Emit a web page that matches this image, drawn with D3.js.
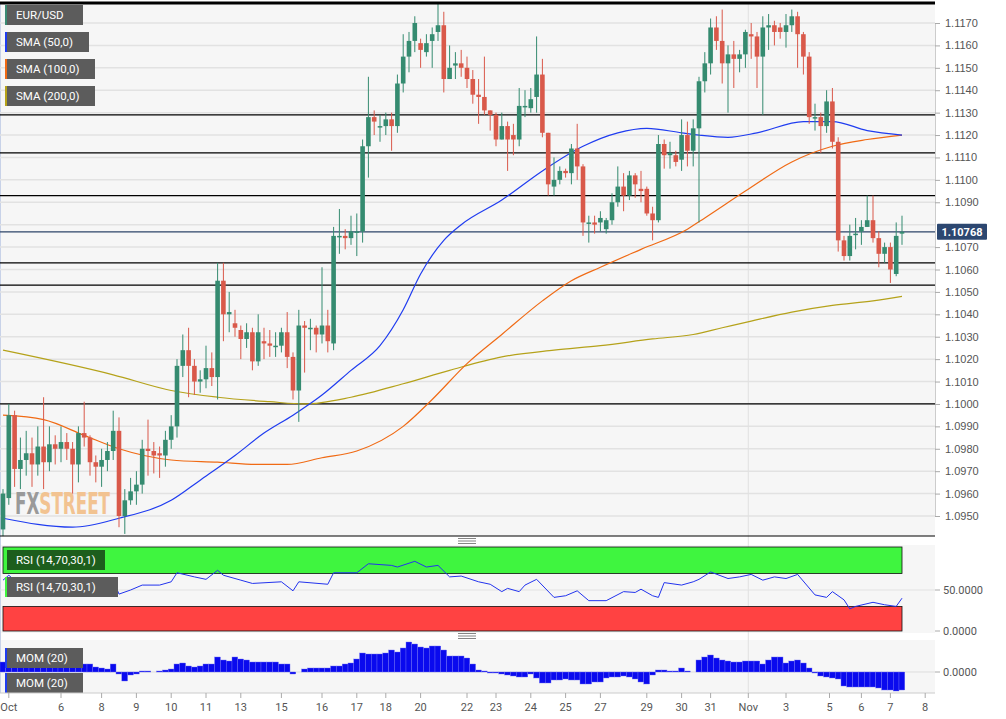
<!DOCTYPE html>
<html><head><meta charset="utf-8">
<script src="https://cdn.jsdelivr.net/npm/d3@7"></script>
<style>body{margin:0;background:#fff;font-family:Roboto,"Open Sans",sans-serif}</style>
</head><body><svg id="c" width="1006" height="719"></svg>
<script>
// candles: [open, high, low, close]
const candles = [
[1.0944,1.0962,1.0941,1.0960],[1.0958,1.1000,1.0955,1.0995],[1.0995,1.0997,1.0963,1.0971],[1.0971,1.0985,1.0962,1.0975],
[1.0975,1.0988,1.0968,1.0978],[1.0978,1.0985,1.0963,1.0973],[1.0973,1.0990,1.0968,1.0981],[1.0981,1.1003,1.0962,1.0974],
[1.0974,1.0990,1.0970,1.0982],[1.0982,1.0986,1.0973,1.0980],[1.0980,1.0990,1.0974,1.0983],[1.0983,1.0987,1.0975,1.0980],
[1.0980,1.0983,1.0960,1.0973],[1.0973,1.0990,1.0965,1.0987],[1.0987,1.1001,1.0981,1.0985],[1.0985,1.0986,1.0968,1.0974],
[1.0974,1.0977,1.0965,1.0972],[1.0972,1.0980,1.0963,1.0975],[1.0975,1.0983,1.0970,1.0979],[1.0979,1.0997,1.0975,1.0988],
[1.0988,1.0994,1.0945,1.0950],[1.0950,1.0962,1.0942,1.0957],[1.0957,1.0967,1.0955,1.0961],[1.0961,1.0970,1.0955,1.0964],
[1.0964,1.0984,1.0960,1.0980],[1.0980,1.0993,1.0968,1.0979],[1.0979,1.0983,1.0969,1.0977],[1.0978,1.0981,1.0967,1.0977],
[1.0977,1.0988,1.0972,1.0984],[1.0984,1.0995,1.0980,1.0990],[1.0990,1.1020,1.0985,1.1017],[1.1017,1.1031,1.1012,1.1024],
[1.1024,1.1034,1.1003,1.1017],[1.1017,1.1020,1.1004,1.1010],[1.1010,1.1015,1.1005,1.1011],[1.1011,1.1026,1.1007,1.1016],
[1.1016,1.1023,1.1008,1.1012],[1.1012,1.1063,1.1002,1.1055],[1.1055,1.1063,1.1028,1.1040],[1.1040,1.1050,1.1032,1.1041],
[1.1036,1.1042,1.1030,1.1034],
[1.1033,1.1035,1.1020,1.1029],[1.1029,1.1036,1.1025,1.1032],[1.1032,1.1034,1.1015,1.1019],[1.1019,1.1040,1.1017,1.1032],
[1.1028,1.1034,1.1020,1.1027],[1.1027,1.1033,1.1021,1.1026],[1.1026,1.1032,1.1021,1.1026],[1.1026,1.1034,1.1023,1.1032],
[1.1032,1.1041,1.1016,1.1021],[1.1021,1.1023,1.1002,1.1006],[1.1006,1.1042,1.0992,1.1035],[1.1035,1.1037,1.1014,1.1034],
[1.1034,1.1038,1.1024,1.1034],[1.1034,1.1035,1.1023,1.1031],[1.1031,1.1061,1.1027,1.1035],[1.1035,1.1042,1.1023,1.1028],
[1.1027,1.1079,1.1024,1.1075],[1.1075,1.1087,1.1067,1.1075],[1.1075,1.1078,1.1069,1.1074],[1.1074,1.1084,1.1071,1.1077],
[1.1077,1.1085,1.1066,1.1077],[1.1077,1.1118,1.1072,1.1115],[1.1115,1.1146,1.1101,1.1128],[1.1128,1.1131,1.1120,1.1126],
[1.1124,1.1129,1.1117,1.1124],[1.1124,1.1130,1.1120,1.1127],[1.1127,1.1130,1.1113,1.1124],[1.1124,1.1147,1.1121,1.1143],
[1.1143,1.1165,1.1139,1.1155],[1.1155,1.1166,1.1148,1.1162],[1.1162,1.1173,1.1157,1.1170],[1.1161,1.1163,1.1150,1.1158],
[1.1157,1.1165,1.1155,1.1161],[1.1162,1.1168,1.1150,1.1165],[1.1166,1.1179,1.1162,1.1169],[1.1169,1.1175,1.1139,1.1145],
[1.1145,1.1160,1.1145,1.1150],[1.1151,1.1157,1.1145,1.1152],[1.1152,1.1158,1.1146,1.1150],[1.1150,1.1155,1.1141,1.1145],
[1.1145,1.1149,1.1134,1.1138],[1.1138,1.1145,1.1125,1.1137],[1.1137,1.1155,1.1129,1.1131],[1.1131,1.1131,1.1122,1.1129],
[1.1129,1.1130,1.1115,1.1118],[1.1118,1.1130,1.1118,1.1124],[1.1124,1.1126,1.1104,1.1118],[1.1120,1.1125,1.1111,1.1118],
[1.1118,1.1141,1.1115,1.1133],[1.1133,1.1140,1.1128,1.1133],[1.1132,1.1141,1.1130,1.1136],[1.1137,1.1164,1.1130,1.1147],
[1.1147,1.1154,1.1119,1.1121],[1.1121,1.1121,1.1093,1.1098],[1.1097,1.1110,1.1093,1.1100],[1.1100,1.1106,1.1098,1.1104],
[1.1104,1.1105,1.1101,1.1103],[1.1103,1.1116,1.1098,1.1114],[1.1114,1.1125,1.1100,1.1106],[1.1106,1.1107,1.1075,1.1081],
[1.1081,1.1084,1.1072,1.1081],[1.1081,1.1084,1.1076,1.1080],[1.1081,1.1086,1.1077,1.1083],[1.1078,1.1083,1.1076,1.1082],
[1.1082,1.1094,1.1080,1.1090],[1.1090,1.1106,1.1088,1.1097],[1.1097,1.1103,1.1086,1.1093],[1.1093,1.1104,1.1091,1.1102],
[1.1102,1.1103,1.1092,1.1098],[1.1096,1.1104,1.1090,1.1095],[1.1096,1.1097,1.1084,1.1085],[1.1085,1.1088,1.1073,1.1082],
[1.1082,1.1120,1.1081,1.1116],[1.1116,1.1118,1.1105,1.1111],[1.1111,1.1117,1.1105,1.1112],[1.1111,1.1113,1.1106,1.1108],
[1.1109,1.1127,1.1104,1.1120],[1.1120,1.1126,1.1106,1.1113],[1.1113,1.1127,1.1106,1.1123],
[1.1123,1.1146,1.1081,1.1144],[1.1144,1.1157,1.1139,1.1152],[1.1152,1.1172,1.1147,1.1168],[1.1168,1.1173,1.1158,1.1162],
[1.1162,1.1176,1.1143,1.1152],[1.1152,1.1160,1.1130,1.1156],[1.1156,1.1162,1.1141,1.1154],[1.1154,1.1158,1.1148,1.1156],
[1.1156,1.1167,1.1150,1.1166],[1.1165,1.1170,1.1154,1.1164],[1.1164,1.1166,1.1141,1.1155],[1.1155,1.1173,1.1129,1.1168],
[1.1168,1.1174,1.1158,1.1169],[1.1169,1.1171,1.1160,1.1166],[1.1168,1.1170,1.1163,1.1166],[1.1166,1.1174,1.1159,1.1169],
[1.1169,1.1176,1.1166,1.1173],[1.1173,1.1175,1.1150,1.1165],[1.1165,1.1166,1.1147,1.1155],[1.1155,1.1157,1.1125,1.1128],
[1.1128,1.1134,1.1122,1.1128],[1.1128,1.1130,1.1112,1.1124],[1.1124,1.1140,1.1121,1.1135],[1.1135,1.1141,1.1114,1.1117],
[1.1117,1.1119,1.1068,1.1073],[1.1073,1.1075,1.1064,1.1066],[1.1066,1.1080,1.1064,1.1075],[1.1076,1.1083,1.1069,1.1076],
[1.1077,1.1082,1.1071,1.1079],[1.1079,1.1093,1.1079,1.1082],[1.1082,1.1093,1.1072,1.1074],[1.1074,1.1077,1.1061,1.1067],
[1.1067,1.1072,1.1063,1.1070],[1.1070,1.1072,1.1054,1.1060],[1.1058,1.1081,1.1057,1.1075],[1.1076,1.1084,1.1071,1.10768]
];
// SMA readings: candle index, price
const sma50 = [[0,1.0949],[12,1.0945],[20,1.0949],[29,1.0957],[34,1.0966],[40,1.0977],[45,1.0987],[50,1.0995],[55,1.1004],[60,1.1015],[65,1.1026],[69,1.1042],[72,1.1058],[76,1.1073],[79,1.1080],[86,1.1091],[93,1.1104],[100,1.1115],[106,1.1121],[111,1.1123],[117,1.1121],[120,1.1120],[125,1.1119],[130,1.1121],[138,1.1126],[143,1.1126],[149,1.1122],[155,1.1120]];
const sma100 = [[0,1.0995],[7,1.0993],[14,1.0986],[20,1.0980],[29,1.0975],[37,1.0974],[44,1.0973],[49,1.0973],[55,1.0976],[61,1.0979],[69,1.0990],[74,1.1002],[80,1.1018],[86,1.1031],[93,1.1046],[98,1.1055],[103,1.1061],[110,1.1069],[118,1.1078],[121,1.1083],[128,1.1095],[136,1.1108],[143,1.1115],[149,1.1118],[155,1.1120]];
const sma200 = [[0,1.1024],[19,1.1013],[29,1.1006],[37,1.1003],[46,1.1001],[52,1.1000],[60,1.1003],[69,1.1009],[77,1.1015],[86,1.1021],[95,1.1024],[103,1.1026],[112,1.1029],[119,1.1031],[124,1.1034],[129,1.1037],[136,1.1041],[143,1.1044],[150,1.1046],[155,1.1048]];
const levels = [1.1129, 1.1112, 1.1093, 1.1063, 1.1053, 1.1000];
const lastPrice = 1.10768;
const priceTicks = d3.range(1.0950, 1.11705, 0.001);
// RSI readings: candle index, value
const rsi = [[0,62],[1,68],[2,62],[19,62],[20,45],[22,50],[24,56],[27,56],[29,60],[30,71],[33,66],[35,63],[37,74],[38,68],[41,62],[43,58],[48,60],[50,49],[51,60],[56,57],[57,71],[61,71],[63,82],[67,80],[68,78],[71,85],[73,78],[75,80],[77,66],[79,67],[82,60],[84,57],[86,48],[87,52],[89,48],[90,56],[92,63],[95,41],[97,43],[99,49],[101,37],[104,37],[107,48],[109,47],[110,51],[112,43],[113,41],[114,59],[117,56],[119,60],[120,63],[122,72],[125,64],[127,66],[129,69],[131,62],[133,66],[135,64],[137,69],[140,44],[142,41],[143,48],[145,38],[146,27],[147,30],[150,35],[152,32],[154,30],[155,40]];
// MOM(20) per candle, pips
const mom = [30,30,27,27,27,27,30,27,27,30,27,30,27,39,24,24,15,12,9,24,-6,-27,-9,-6,3,3,0,3,6,9,24,27,18,15,18,24,24,45,36,33,45,39,36,30,30,30,30,30,24,24,-6,0,9,12,12,12,12,18,18,24,27,39,57,54,54,54,57,66,60,72,90,84,75,72,78,78,66,48,48,48,42,24,6,3,-3,-3,-6,-9,-12,-15,-15,-6,-18,-33,-33,-24,-24,-21,-24,-24,-36,-36,-30,-30,-18,-15,-15,-12,-15,-21,-30,-36,-9,6,6,3,3,12,3,0,36,45,51,42,36,33,30,30,33,33,33,24,36,45,45,27,33,36,27,12,-3,-12,-15,-18,-21,-42,-45,-45,-45,-45,-45,-48,-54,-54,-57,-54];
const dayLabels = [["Oct",1],["6",10],["8",17],["9",23],["10",29],["11",35],["13",41],["15",48],["16",55],["17",61],["18",66],["20",72],["22",80],["23",85],["24",91],["25",97],["27",103],["29",111],["30",117],["31",122],["Nov",128.5],["3",135],["5",142.5],["6",148],["7",153],["8",159]];

const svg = d3.select('#c');
const W = 935;
const x = d3.scaleLinear().domain([0, 155]).range([3, 902]);
const cw = 4.6;
const up = '#358b70', dn = '#d9594a';

// main panel
const y = d3.scaleLinear().domain([1.0950, 1.1170]).range([516, 23]);
svg.append('rect').attr('x', 0).attr('y', 3).attr('width', W).attr('height', 533).attr('fill', '#f6f6f6');
svg.append('rect').attr('x', 0).attr('y', 545).attr('width', W).attr('height', 88).attr('fill', '#f6f6f6');
svg.append('rect').attr('x', 0).attr('y', 640).attr('width', W).attr('height', 53).attr('fill', '#f6f6f6');
svg.append('line').attr('x1', 0.5).attr('x2', 0.5).attr('y1', 3).attr('y2', 693).attr('stroke', '#c8d2e8');

svg.append('g').selectAll('line').data(priceTicks).join('line')
  .attr('x1', 0).attr('x2', W).attr('y1', d => y(d)).attr('y2', d => y(d))
  .attr('stroke', '#e2e2e2').attr('stroke-width', 1.5);
svg.append('line').attr('x1', x(128.5)).attr('x2', x(128.5)).attr('y1', 3).attr('y2', 693).attr('stroke', '#e2e2e2');

// watermark
const wm = svg.append('text').attr('x', 15).attr('y', 514).attr('font-size', 30).attr('font-weight', 'bold')
  .attr('font-family', '"DejaVu Sans Condensed","Liberation Sans Narrow",sans-serif')
  .attr('textLength', 95).attr('lengthAdjust', 'spacingAndGlyphs');
wm.append('tspan').attr('fill', '#9a9a9a').text('FX');
wm.append('tspan').attr('fill', '#f2c391').text('STREET');

svg.append('g').selectAll('line').data(levels).join('line')
  .attr('x1', 0).attr('x2', W).attr('y1', d => y(d)).attr('y2', d => y(d))
  .attr('stroke', '#000').attr('stroke-width', 1.3);
svg.append('line').attr('x1', 0).attr('x2', W).attr('y1', y(lastPrice)).attr('y2', y(lastPrice))
  .attr('stroke', '#2c4468').attr('stroke-width', 1.2);

const line = d3.line().x(d => x(d[0])).y(d => y(d[1])).curve(d3.curveMonotoneX);
[[sma200, '#b5a21a'], [sma100, '#f06a14'], [sma50, '#1f3cf0']].forEach(([d, c]) =>
  svg.append('path').attr('d', line(d)).attr('fill', 'none').attr('stroke', c).attr('stroke-width', 1.2));

const cg = svg.append('g').selectAll('g').data(candles).join('g');
cg.append('line').attr('x1', (d, i) => x(i)).attr('x2', (d, i) => x(i))
  .attr('y1', d => y(d[1])).attr('y2', d => y(d[2]))
  .attr('stroke', d => d[3] >= d[0] ? up : dn).attr('stroke-width', 1);
cg.append('rect').attr('x', (d, i) => x(i) - cw / 2).attr('width', cw)
  .attr('y', d => y(Math.max(d[0], d[3])))
  .attr('height', d => Math.max(1.5, Math.abs(y(d[0]) - y(d[3]))))
  .attr('fill', d => d[3] >= d[0] ? up : dn);

svg.append('line').attr('x1', 0).attr('x2', W).attr('y1', 3).attr('y2', 3).attr('stroke', '#000').attr('stroke-width', 3);
svg.append('line').attr('x1', 0).attr('x2', W).attr('y1', 536).attr('y2', 536).attr('stroke', '#000').attr('stroke-width', 1);

// price axis (the tick hidden by the last-price box is skipped)
const ay = svg.append('g').attr('transform', `translate(${W},0)`)
  .call(d3.axisRight(y).tickValues(priceTicks.filter(d => Math.abs(d - 1.108) > 1e-6)).tickFormat(d3.format('.4f')).tickSize(5));
ay.select('.domain').attr('stroke', '#ccc');
ay.selectAll('line').attr('stroke', '#aaa');
ay.selectAll('text').attr('fill', '#555').attr('font-size', 11).attr('dx', 2);
svg.append('rect').attr('x', 937).attr('y', y(lastPrice) - 8).attr('width', 50).attr('height', 16).attr('fill', '#2c4770').attr('rx', 1);
svg.append('text').attr('x', 962).attr('y', y(lastPrice) + 4).attr('text-anchor', 'middle')
  .attr('fill', '#fff').attr('font-size', 11).attr('font-weight', 'bold').text(lastPrice.toFixed(5));

// legends
function tag(tx, ty, w, txt, strip, bg) {
  svg.append('rect').attr('x', tx).attr('y', ty).attr('width', w).attr('height', 20).attr('fill', bg || '#5c5c5c');
  svg.append('rect').attr('x', tx).attr('y', ty).attr('width', 2).attr('height', 20).attr('fill', strip);
  svg.append('text').attr('x', tx + 11).attr('y', ty + 14).attr('fill', '#fff').attr('font-size', 11.5).text(txt);
}
tag(5, 5, 78, 'EUR/USD', '#3a8a73');
tag(5, 32, 84, 'SMA (50,0)', '#1f3cf0');
tag(5, 59, 90, 'SMA (100,0)', '#f06a14');
tag(5, 86, 90, 'SMA (200,0)', '#b5a21a');

// handles
[541, 636].forEach(hy => [0, 2.5, 5].forEach(o =>
  svg.append('line').attr('x1', 458).attr('x2', 476).attr('y1', hy - 2.5 + o).attr('y2', hy - 2.5 + o).attr('stroke', '#666').attr('stroke-width', 0.8)));

// RSI panel
const yr = d3.scaleLinear().domain([0, 50]).range([631, 590]);
svg.append('rect').attr('x', 3).attr('y', 547).attr('width', 899).attr('height', yr(70) - 547)
  .attr('fill', '#3ff53f').attr('stroke', '#111').attr('stroke-width', 0.8);
svg.append('rect').attr('x', 3).attr('y', yr(30)).attr('width', 899).attr('height', yr(0) - yr(30))
  .attr('fill', '#ff4242').attr('stroke', '#111').attr('stroke-width', 0.8);
svg.append('line').attr('x1', 0).attr('x2', W).attr('y1', yr(50)).attr('y2', yr(50)).attr('stroke', '#e2e2e2');
svg.append('path').attr('d', d3.line().x(d => x(d[0])).y(d => yr(d[1]))(rsi))
  .attr('fill', 'none').attr('stroke', '#2233ee').attr('stroke-width', 1);
tag(5, 550, 100, 'RSI (14,70,30,1)', '#3ff53f', '#1d5e1d');
tag(5, 577, 113, 'RSI (14,70,30,1)', '#3ff53f');
[[50, '50.0000'], [0, '0.0000']].forEach(([v, t]) => {
  svg.append('line').attr('x1', W).attr('x2', W + 5).attr('y1', yr(v)).attr('y2', yr(v)).attr('stroke', '#aaa');
  svg.append('text').attr('x', W + 8).attr('y', yr(v) + 4).attr('fill', '#555').attr('font-size', 11).text(t);
});

// MOM panel
const ym = d3.scaleLinear().domain([0, 90]).range([672, 642]);
svg.append('line').attr('x1', 0).attr('x2', W).attr('y1', ym(0)).attr('y2', ym(0)).attr('stroke', '#ddd');
svg.append('g').selectAll('rect').data(mom).join('rect')
  .attr('x', (d, i) => x(i) - 3).attr('width', 5.8)
  .attr('y', d => Math.min(ym(d), ym(0))).attr('height', d => Math.abs(ym(d) - ym(0)))
  .attr('fill', '#0a0aee').attr('stroke', '#6f6ff5').attr('stroke-width', 0.4);
tag(5, 648, 78, 'MOM (20)', '#1f3cf0');
tag(5, 673, 78, 'MOM (20)', '#1f3cf0');
svg.append('line').attr('x1', W).attr('x2', W + 5).attr('y1', ym(0)).attr('y2', ym(0)).attr('stroke', '#aaa');
svg.append('text').attr('x', W + 8).attr('y', ym(0) + 4).attr('fill', '#555').attr('font-size', 11).text('0.0000');
svg.append('line').attr('x1', 0).attr('x2', W).attr('y1', 693).attr('y2', 693).attr('stroke', '#ccc');

// date axis
const xg = svg.append('g').selectAll('g').data(dayLabels).join('g');
xg.append('line').attr('x1', d => x(d[1])).attr('x2', d => x(d[1])).attr('y1', 693).attr('y2', 698).attr('stroke', '#aaa');
xg.append('text').attr('x', d => x(d[1])).attr('y', 711).attr('text-anchor', 'middle')
  .attr('fill', '#555').attr('font-size', 11).text(d => d[0]);
</script></body></html>
